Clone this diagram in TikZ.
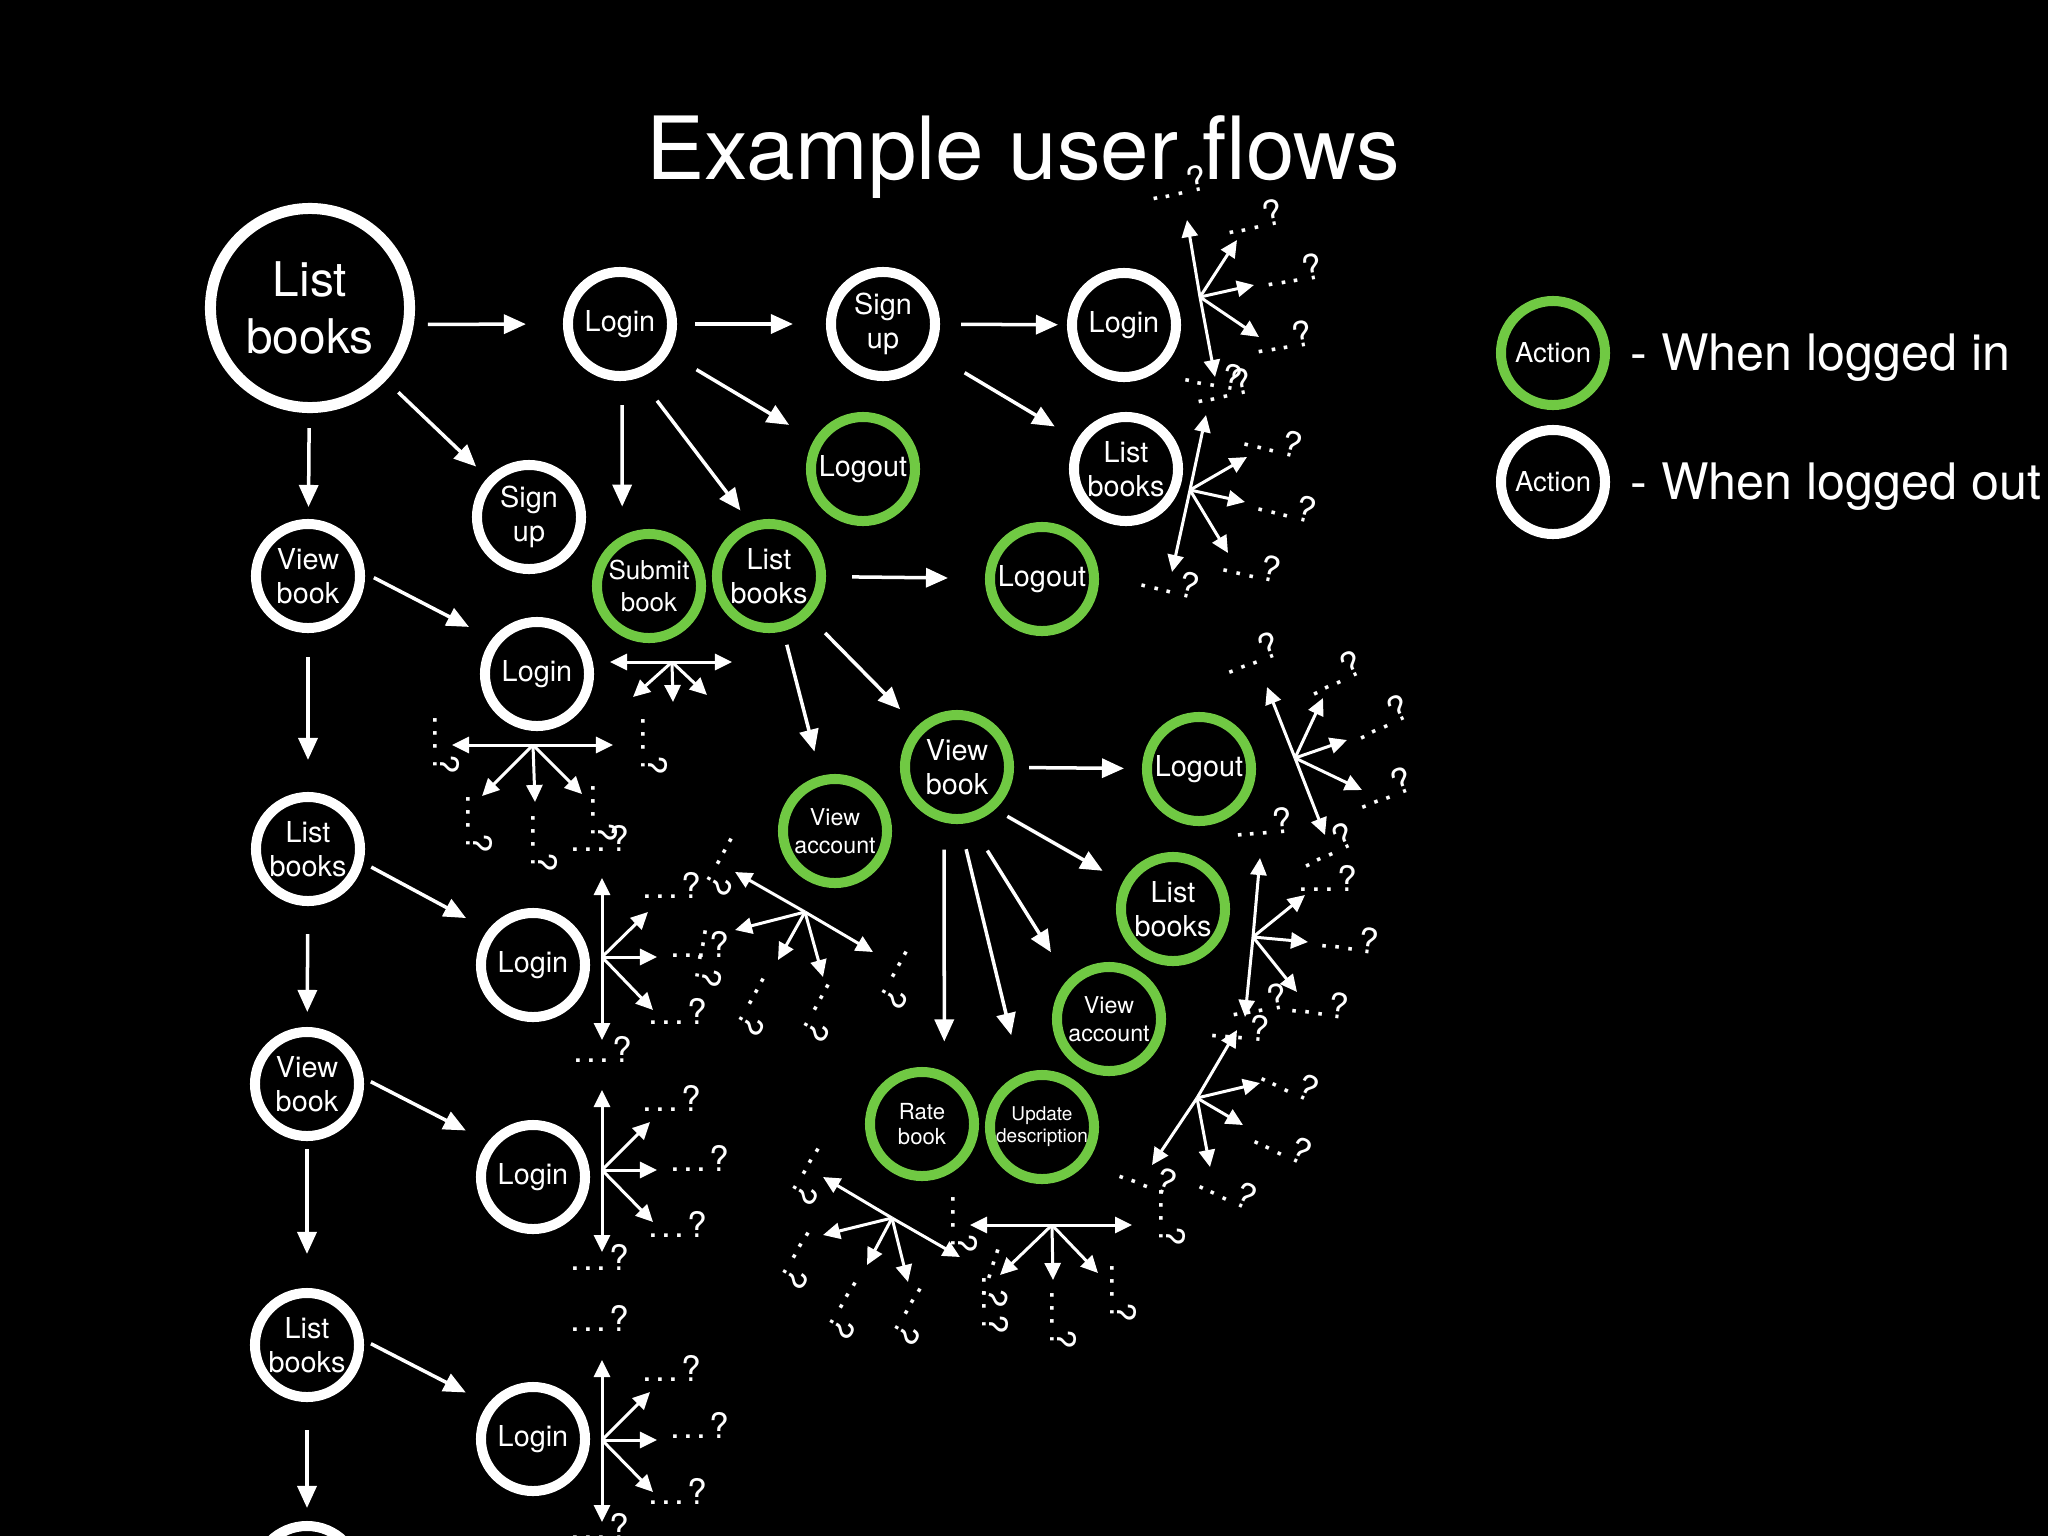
\documentclass[tikz,border=0pt]{standalone}
\usepackage{fontspec}
\setmainfont{TeX Gyre Heros}
\usetikzlibrary{arrows.meta,positioning}
\definecolor{lgreen}{RGB}{112,201,67}
\newcommand{\huh}{.\kern.9pt.\kern.9pt.\kern.9pt?}

\begin{document}
\begin{tikzpicture}[x=0.01cm,y=-0.01cm,
 act/.style={circle,draw=white,line width=0.1cm,minimum size=1.04cm,inner sep=0pt,outer sep=0.05cm,text=white,align=center,font=\fontsize{8.2}{9.8}\selectfont},
 actin/.style={act,draw=lgreen},
 big/.style={act,line width=0.11cm,minimum size=1.99cm,outer sep=0.055cm,font=\fontsize{13.6}{16.3}\selectfont},
 small/.style={font=\fontsize{6.6}{7.9}\selectfont},
 flow/.style={white,line width=0.035cm,-{Triangle[length=0.22cm,width=0.19cm]}},
 fan/.style={white,line width=0.03cm,-{Triangle[length=0.17cm,width=0.16cm]}},
 qq/.style={text=white,inner sep=0pt,font=\fontsize{10}{12}\selectfont},
 legtxt/.style={text=white,inner sep=0pt,font=\fontsize{14.3}{17}\selectfont}]
 \fill[black] (0,0) rectangle (2048,1536);
 \useasboundingbox (0,0) rectangle (2048,1536);

 \node[text=white,anchor=base,font=\fontsize{24.8}{30}\selectfont] (title) at (1023,179) {Example user flows};

 \node[big] (list0) at (310,308) {List\\books};
 \node[act] (view1) at (308,576) {View\\book};
 \node[act] (list2) at (308,849) {List\\books};
 \node[act] (view3) at (307,1084) {View\\book};
 \node[act] (list4) at (307,1345) {List\\books};
 \node[act] (next5) at (307,1578) {};
 \node[act] (login1) at (620,324) {Login};
 \node[act] (signup1) at (883,324) {Sign\\up};
 \node[act] (login2) at (1124,325) {Login};
 \node[act] (listw) at (1126,469) {List\\books};
 \node[act] (signup2) at (529,517) {Sign\\up};
 \node[act] (login3) at (537,674) {Login};
 \node[act] (login4) at (533,965) {Login};
 \node[act] (login5) at (533,1177) {Login};
 \node[act] (login6) at (533,1439) {Login};
 \node[actin] (logout1) at (863,469) {Logout};
 \node[actin,font=\fontsize{7.4}{8.9}\selectfont] (submit) at (649,586) {Submit\\book};
 \node[actin] (listg1) at (769,576) {List\\books};
 \node[actin] (logout2) at (1042,579) {Logout};
 \node[actin] (viewg) at (957,767) {View\\book};
 \node[actin,small] (viewacc1) at (835,831) {View\\account};
 \node[actin] (logout3) at (1199,769) {Logout};
 \node[actin] (listg2) at (1173,909) {List\\books};
 \node[actin,small] (viewacc2) at (1109,1019) {View\\account};
 \node[actin,font=\fontsize{6.3}{7}\selectfont] (rate) at (922,1124) {Rate\\book};
 \node[actin,font=\fontsize{5.4}{6.3}\selectfont] (update) at (1042,1127) {Update\\description};

 \node[actin,font=\fontsize{7.8}{9}\selectfont] (legin) at (1553,353) {Action};
 \node[act,font=\fontsize{7.8}{9}\selectfont] (legout) at (1553,482) {Action};
 \node[legtxt,right=0.2cm of legin,yshift=-0.05cm] (legintxt) {- When logged in};
 \node[legtxt,right=0.2cm of legout,yshift=-0.05cm] (legouttxt) {- When logged out};

 \draw[flow,shorten <=0.15cm,shorten >=0.12cm] (list0) -- (view1);
 \draw[flow,shorten <=0.24cm,shorten >=0.32cm] (view1) -- (list2);
 \draw[flow,shorten <=0.28cm,shorten >=0.15cm] (list2) -- (view3);
 \draw[flow,shorten <=0.08cm,shorten >=0.34cm] (view3) -- (list4);
 \draw[flow,shorten <=0.28cm,shorten >=0.13cm] (list4) -- (next5);
 \draw[flow,shorten <=0.17cm,shorten >=0.16cm] (list0) -- (signup2);
 \draw[flow,shorten <=0.14cm,shorten >=0.37cm] (list0.-9) -- (login1.180);
 \draw[flow,shorten <=0.10cm,shorten >=0.26cm] (view1.3) -- (login3.142);
 \draw[flow,shorten <=0.09cm,shorten >=0.25cm] (list2.-14) -- (login4.142);
 \draw[flow,shorten <=0.08cm,shorten >=0.25cm] (view3.6) -- (login5.142);
 \draw[flow,shorten <=0.08cm,shorten >=0.25cm] (list4.5) -- (login6.142);
 \draw[flow,shorten <=0.18cm,shorten >=0.33cm] (login1) -- (signup1);
 \draw[flow,shorten <=0.21cm,shorten >=0.09cm] (signup1) -- (login2);
 \draw[flow,shorten <=0.32cm,shorten >=0.29cm] (login1) -- (logout1);
 \draw[flow,shorten <=0.24cm,shorten >=0.29cm] (login1.-88) -- (submit.118);
 \draw[flow,shorten <=0.29cm,shorten >=0.15cm] (login1.-70) -- (listg1.110);
 \draw[flow,shorten <=0.38cm,shorten >=0.26cm] (signup1) -- (listw);
 \draw[flow,shorten <=0.26cm,shorten >=0.37cm] (listg1) -- (logout2);
 \draw[flow,shorten <=0.23cm,shorten >=0.24cm] (listg1) -- (viewg);
 \draw[flow,shorten <=0.14cm,shorten >=0.25cm] (listg1) -- (viewacc1);
 \draw[flow,shorten <=0.15cm,shorten >=0.18cm] (viewg) -- (logout3);
 \draw[flow,shorten <=0.14cm,shorten >=0.23cm] (viewg.-48) -- (listg2.152);
 \draw[flow,shorten <=0.33cm,shorten >=0.32cm] (viewg.-77) -- (viewacc2.136);
 \draw[flow,shorten <=0.27cm,shorten >=0.30cm] (viewg.-103) -- (rate.67);
 \draw[flow,shorten <=0.26cm,shorten >=0.40cm] (viewg.-87) -- (update.112);

 \coordinate (fanA) at (1200,297);
 \draw[fan] (fanA) -- ++(-13,-77);
 \draw[fan] (fanA) -- ++(37,-57);
 \draw[fan] (fanA) -- ++(54,-12);
 \draw[fan] (fanA) -- ++(59,40);
 \draw[fan] (fanA) -- ++(15,80);
 \node[qq,rotate=12] (qa1) at (1177,183) {\huh};
 \node[qq,rotate=12] (qa2) at (1253,217) {\huh};
 \node[qq,rotate=10] (qa3) at (1293,270) {\huh};
 \node[qq,rotate=10] (qa4) at (1283,337) {\huh};
 \node[qq,rotate=-10] (qa5) at (1213,374) {\huh};
 \node[qq,rotate=12] (qa6) at (1222,386) {\huh};

 \coordinate (fanB) at (1190,490);
 \draw[fan] (fanB) -- ++(16,-75);
 \draw[fan] (fanB) -- ++(57,-33);
 \draw[fan] (fanB) -- ++(55,12);
 \draw[fan] (fanB) -- ++(38,63);
 \draw[fan] (fanB) -- ++(-18,82);
 \node[qq,rotate=-14] (qb1) at (1273,440) {\huh};
 \node[qq,rotate=-14] (qb2) at (1287,505) {\huh};
 \node[qq,rotate=-12] (qb3) at (1252,565) {\huh};
 \node[qq,rotate=-14] (qb4) at (1170,581) {\huh};

 \coordinate (fanC) at (533,745);
 \draw[fan] (fanC) -- ++(-81,0);
 \draw[fan] (fanC) -- ++(80,0);
 \draw[fan] (fanC) -- ++(-51,51);
 \draw[fan] (fanC) -- ++(2,57);
 \draw[fan] (fanC) -- ++(49,49);
 \node[qq,rotate=-90] (qc1) at (447,745) {\huh};
 \node[qq,rotate=-90] (qc2) at (480,824) {\huh};
 \node[qq,rotate=-90] (qc3) at (545,843) {\huh};
 \node[qq,rotate=-90] (qc4) at (605,813) {\huh};
 \node[qq] (qc5) at (600,838) {\huh};
 \node[qq,rotate=-90] (qc6) at (655,746) {\huh};

 \coordinate (fanD) at (672,662);
 \draw[fan] (fanD) -- ++(-62,0);
 \draw[fan] (fanD) -- ++(60,0);
 \draw[fan] (fanD) -- ++(-39,35);
 \draw[fan] (fanD) -- ++(1,40);
 \draw[fan] (fanD) -- ++(35,33);

 \coordinate (fanE) at (602,957);
 \draw[fan] (fanE) -- ++(0,-79);
 \draw[fan] (fanE) -- ++(0,83);
 \draw[fan] (fanE) -- ++(46,-45);
 \draw[fan] (fanE) -- ++(55,0);
 \draw[fan] (fanE) -- ++(51,53);
 \node[qq] (qe1) at (672,885) {\huh};
 \node[qq] (qe2) at (700,944) {\huh};
 \node[qq,rotate=-100] (qe3) at (712,958) {\huh};
 \node[qq] (qe4) at (678,1011) {\huh};
 \node[qq] (qe5) at (603,1049) {\huh};

 \coordinate (fanF) at (805,912);
 \draw[fan] (fanF) -- ++(-70,-40);
 \draw[fan] (fanF) -- ++(68,40);
 \draw[fan] (fanF) -- ++(-70,18);
 \draw[fan] (fanF) -- ++(-27,48);
 \draw[fan] (fanF) -- ++(18,65);
 \node[qq,rotate=-119] (qf1) at (729,867) {\huh};
 \node[qq,rotate=-119] (qf2) at (761,1007) {\huh};
 \node[qq,rotate=-119] (qf3) at (826,1013) {\huh};
 \node[qq,rotate=-119] (qf4) at (904,980) {\huh};

 \coordinate (fanG) at (602,1170);
 \draw[fan] (fanG) -- ++(0,-80);
 \draw[fan] (fanG) -- ++(0,82);
 \draw[fan] (fanG) -- ++(48,-48);
 \draw[fan] (fanG) -- ++(55,0);
 \draw[fan] (fanG) -- ++(51,52);
 \node[qq] (qg1) at (672,1098) {\huh};
 \node[qq] (qg2) at (700,1158) {\huh};
 \node[qq] (qg3) at (678,1224) {\huh};
 \node[qq] (qg4) at (600,1257) {\huh};

 \coordinate (fanH) at (602,1440);
 \draw[fan] (fanH) -- ++(0,-80);
 \draw[fan] (fanH) -- ++(0,82);
 \draw[fan] (fanH) -- ++(48,-48);
 \draw[fan] (fanH) -- ++(55,0);
 \draw[fan] (fanH) -- ++(51,52);
 \node[qq] (qh1) at (600,1318) {\huh};
 \node[qq] (qh2) at (672,1368) {\huh};
 \node[qq] (qh3) at (700,1425) {\huh};
 \node[qq] (qh4) at (678,1491) {\huh};
 \node[qq] (qh5) at (600,1526) {\huh};

 \coordinate (fanI) at (1295,758);
 \draw[fan] (fanI) -- ++(-28,-71);
 \draw[fan] (fanI) -- ++(30,77);
 \draw[fan] (fanI) -- ++(28,-60);
 \draw[fan] (fanI) -- ++(52,-18);
 \draw[fan] (fanI) -- ++(67,32);
 \node[qq,rotate=20] (qi1) at (1250,653) {\huh};
 \node[qq,rotate=25] (qi2) at (1333,673) {\huh};
 \node[qq,rotate=25] (qi3) at (1380,717) {\huh};
 \node[qq,rotate=20] (qi4) at (1383,788) {\huh};
 \node[qq,rotate=5] (qi5) at (1263,822) {\huh};
 \node[qq,rotate=25] (qi6) at (1325,845) {\huh};

 \coordinate (fanJ) at (1253,937);
 \draw[fan] (fanJ) -- ++(7,-79);
 \draw[fan] (fanJ) -- ++(-8,80);
 \draw[fan] (fanJ) -- ++(52,-42);
 \draw[fan] (fanJ) -- ++(55,5);
 \draw[fan] (fanJ) -- ++(44,55);
 \node[qq] (qj1) at (1328,878) {\huh};
 \node[qq,rotate=-7] (qj2) at (1350,938) {\huh};
 \node[qq,rotate=-7] (qj3) at (1320,1003) {\huh};
 \node[qq,rotate=10] (qj4) at (1258,1000) {\huh};

 \coordinate (fanK) at (1197,1098);
 \draw[fan] (fanK) -- ++(40,-68);
 \draw[fan] (fanK) -- ++(-45,67);
 \draw[fan] (fanK) -- ++(63,-15);
 \draw[fan] (fanK) -- ++(46,27);
 \draw[fan] (fanK) -- ++(13,69);
 \node[qq,rotate=-5] (qk1) at (1240,1027) {\huh};
 \node[qq,rotate=-25] (qk2) at (1290,1080) {\huh};
 \node[qq,rotate=-25] (qk3) at (1283,1143) {\huh};
 \node[qq,rotate=-25] (qk4) at (1228,1188) {\huh};
 \node[qq,rotate=-20] (qk5) at (1148,1175) {\huh};
 \node[qq,rotate=-90] (qk6) at (1173,1217) {\huh};

 \coordinate (fanL) at (892,1218);
 \draw[fan] (fanL) -- ++(-69,-41);
 \draw[fan] (fanL) -- ++(68,39);
 \draw[fan] (fanL) -- ++(-69,17);
 \draw[fan] (fanL) -- ++(-25,47);
 \draw[fan] (fanL) -- ++(16,64);
 \node[qq,rotate=-120] (ql1) at (815,1177) {\huh};
 \node[qq,rotate=-120] (ql2) at (805,1261) {\huh};
 \node[qq,rotate=-120] (ql3) at (852,1311) {\huh};
 \node[qq,rotate=-120] (ql4) at (917,1317) {\huh};
 \node[qq,rotate=-90] (ql5) at (965,1224) {\huh};

 \coordinate (fanM) at (1052,1225);
 \draw[fan] (fanM) -- ++(-82,0);
 \draw[fan] (fanM) -- ++(80,0);
 \draw[fan] (fanM) -- ++(-52,50);
 \draw[fan] (fanM) -- ++(1,55);
 \draw[fan] (fanM) -- ++(46,48);
 \node[qq,rotate=-107] (qm1) at (1001,1278) {\huh};
 \node[qq,rotate=-90] (qm2) at (996,1305) {\huh};
 \node[qq,rotate=-90] (qm3) at (1064,1320) {\huh};
 \node[qq,rotate=-90] (qm4) at (1124,1293) {\huh};
\end{tikzpicture}
\end{document}
